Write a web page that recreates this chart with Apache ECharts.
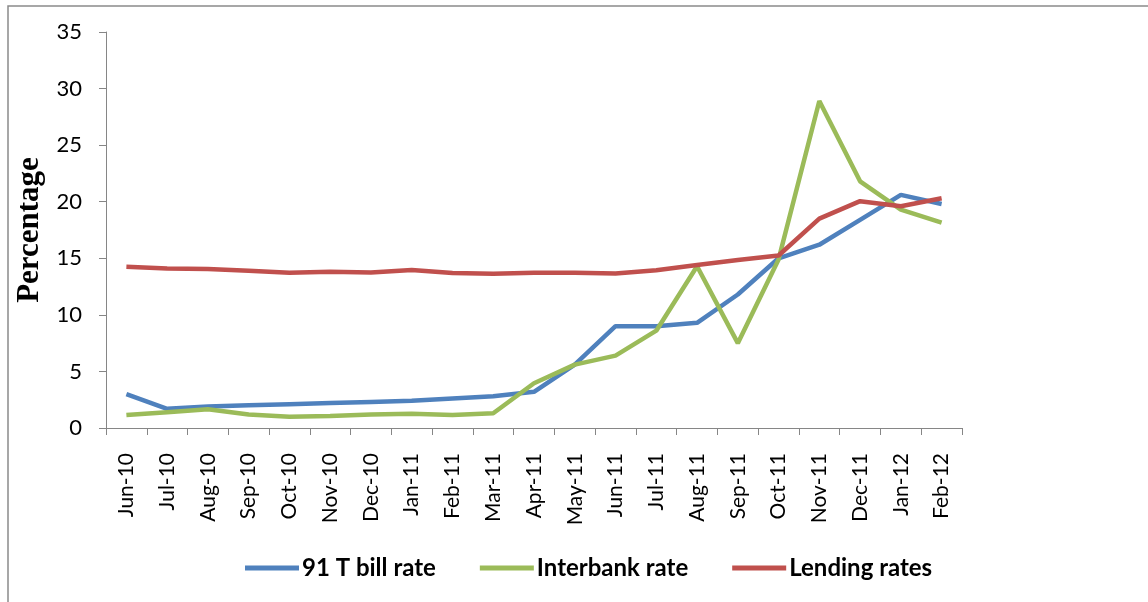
<!DOCTYPE html>
<html>
<head>
<meta charset="utf-8">
<script src="https://cdn.jsdelivr.net/npm/echarts@6/dist/echarts.min.js"></script>
<style>html,body{margin:0;padding:0;background:#fff}#c{width:1148px;height:602px}</style>
</head>
<body>
<div id="c"></div>
<script>
const categories = ['Jun-10','Jul-10','Aug-10','Sep-10','Oct-10','Nov-10','Dec-10','Jan-11','Feb-11','Mar-11','Apr-11','May-11','Jun-11','Jul-11','Aug-11','Sep-11','Oct-11','Nov-11','Dec-11','Jan-12','Feb-12'];
const tbill = [3.0,1.7,1.9,2.0,2.1,2.2,2.3,2.4,2.6,2.8,3.2,5.6,9.0,9.0,9.3,11.8,15.0,16.2,18.4,20.6,19.8];
const interbank = [1.15,1.4,1.65,1.2,1.0,1.05,1.2,1.25,1.15,1.3,3.95,5.6,6.4,8.6,14.3,7.5,14.9,28.9,21.8,19.3,18.15];
const lending = [14.25,14.1,14.05,13.9,13.73,13.8,13.75,13.97,13.7,13.63,13.73,13.73,13.65,13.95,14.4,14.85,15.25,18.5,20.05,19.6,20.3];
const yTicks = {min:0, max:35, interval:5};

const chart = echarts.init(document.getElementById('c'));
const font = 'Lato, "Open Sans", sans-serif';
chart.setOption({
  animation:false,
  backgroundColor:'#fff',
  graphic:[{type:'rect',shape:{x:8,y:6,width:1300,height:800},style:{fill:'none',stroke:'#8a8a8a',lineWidth:1.5},silent:true}],
  grid:{left:106,right:186,top:32,bottom:174,containLabel:false},
  legend:{
    bottom:17,left:240,itemWidth:54,itemHeight:5,itemGap:44,icon:'rect',
    textStyle:{fontFamily:font,fontWeight:'bold',fontSize:24,color:'#000',padding:[0,0,0,-2]},
    data:['91 T bill rate','Interbank rate','Lending rates']
  },
  xAxis:{
    type:'category',data:categories,boundaryGap:true,
    axisLine:{lineStyle:{color:'#868686',width:1}},
    axisTick:{show:true,alignWithLabel:false,length:7,lineStyle:{color:'#868686'}},
    axisLabel:{rotate:90,margin:25,fontFamily:font,fontSize:21,color:'#000',interval:0}
  },
  yAxis:{
    type:'value',min:yTicks.min,max:yTicks.max,interval:yTicks.interval,
    name:'Percentage',nameLocation:'middle',nameGap:56,nameRotate:90,
    nameTextStyle:{fontFamily:'"Liberation Serif", serif',fontWeight:'bold',fontSize:31,color:'#000'},
    axisLine:{show:true,lineStyle:{color:'#868686',width:1}},
    axisTick:{show:true,length:7,lineStyle:{color:'#868686'}},
    splitLine:{show:false},
    axisLabel:{margin:24,fontFamily:font,fontSize:22,color:'#000'}
  },
  series:[
    {name:'91 T bill rate',type:'line',data:tbill,symbol:'none',itemStyle:{color:'#4F81BD'},lineStyle:{color:'#4F81BD',width:4.5}},
    {name:'Interbank rate',type:'line',data:interbank,symbol:'none',itemStyle:{color:'#9BBB59'},lineStyle:{color:'#9BBB59',width:4.5}},
    {name:'Lending rates',type:'line',data:lending,symbol:'none',itemStyle:{color:'#C0504D'},lineStyle:{color:'#C0504D',width:4.5}}
  ]
});
</script>
</body>
</html>
